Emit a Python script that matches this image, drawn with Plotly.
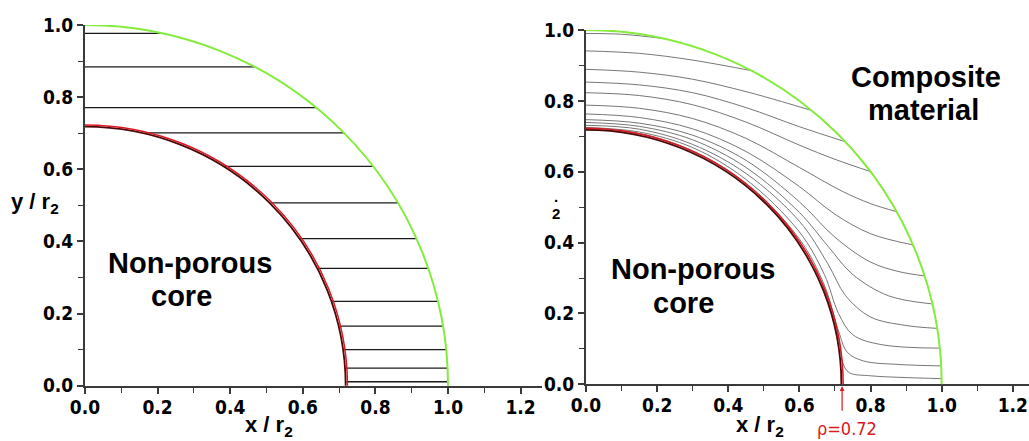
import numpy as np
import plotly.graph_objects as go

W, H = 1029, 441

# ---------------- data ----------------
outer_radius = 1.0
core_radius = 0.72

# left panel: heights of the straight (horizontal) lines
left_line_y = [0.977, 0.884, 0.771, 0.701, 0.608, 0.507, 0.408,
               0.325, 0.234, 0.165, 0.100, 0.049, 0.011]

# right panel: curved lines (x, y points)
stream_x = [
    [0, 0.10, 0.218],
    [0, 0.15, 0.30, 0.472],
    [0, 0.15, 0.30, 0.45, 0.55, 0.637],
    [0, 0.15, 0.30, 0.45, 0.60, 0.728],
    [0, 0.15, 0.30, 0.45, 0.60, 0.70, 0.801],
    [0, 0.15, 0.30, 0.45, 0.60, 0.72, 0.80, 0.874],
    [0, 0.15, 0.30, 0.45, 0.60, 0.70, 0.80, 0.921],
    [0, 0.15, 0.30, 0.45, 0.60, 0.70, 0.80, 0.88, 0.952],
    [0, 0.15, 0.30, 0.45, 0.60, 0.68, 0.75, 0.85, 0.972],
    [0, 0.15, 0.30, 0.45, 0.60, 0.68, 0.73, 0.80, 0.90, 0.986],
    [0, 0.15, 0.30, 0.45, 0.60, 0.67, 0.71, 0.75, 0.83, 0.994],
    [0, 0.15, 0.30, 0.45, 0.60, 0.67, 0.71, 0.735, 0.78, 0.88, 0.999],
    [0, 0.15, 0.30, 0.45, 0.60, 0.67, 0.712, 0.722, 0.74, 0.80, 0.90, 1.0],
]
stream_y = [
    [0.990, 0.988, 0.976],
    [0.941, 0.934, 0.915, 0.884],
    [0.889, 0.881, 0.861, 0.826, 0.798, 0.772],
    [0.853, 0.845, 0.823, 0.781, 0.727, 0.685],
    [0.823, 0.815, 0.789, 0.740, 0.675, 0.635, 0.600],
    [0.788, 0.779, 0.750, 0.694, 0.612, 0.545, 0.510, 0.487],
    [0.763, 0.753, 0.721, 0.657, 0.558, 0.480, 0.425, 0.393],
    [0.747, 0.737, 0.703, 0.632, 0.515, 0.415, 0.345, 0.318, 0.306],
    [0.739, 0.728, 0.690, 0.612, 0.485, 0.390, 0.310, 0.250, 0.227],
    [0.731, 0.720, 0.677, 0.595, 0.460, 0.340, 0.250, 0.190, 0.166, 0.158],
    [0.725, 0.712, 0.668, 0.578, 0.430, 0.310, 0.200, 0.140, 0.112, 0.102],
    [0.722, 0.708, 0.659, 0.567, 0.410, 0.280, 0.150, 0.090, 0.066, 0.056, 0.052],
    [0.721, 0.706, 0.656, 0.563, 0.402, 0.266, 0.120, 0.060, 0.033, 0.024, 0.019, 0.016],
]

tick_vals = [0.0, 0.2, 0.4, 0.6, 0.8, 1.0, 1.2]
tick_text = ["0.0", "0.2", "0.4", "0.6", "0.8", "1.0", "1.2"]
marker_rho = 0.72

# ---------------- styling ----------------
FONT = "Liberation Sans, Arial, sans-serif"
NARROW = "Liberation Sans Narrow, Arial Narrow, DejaVu Sans Condensed, sans-serif"
AXIS_COLOR = "#3a3a3a"
GREEN = "#84ec3c"
RED = "#dc1820"
DARK_RED = "#4a0a0a"

fig = go.Figure()

# left panel horizontal lines
lx, ly = [], []
for y in left_line_y:
    xs = np.sqrt(max(core_radius ** 2 - y ** 2, 0.0))
    xe = np.sqrt(outer_radius ** 2 - y ** 2)
    lx += [xs, xe, None]
    ly += [y, y, None]
fig.add_trace(go.Scatter(x=lx, y=ly, mode="lines", xaxis="x", yaxis="y",
                         line=dict(color="#1a1a1a", width=1.3),
                         hoverinfo="skip", showlegend=False))

# right panel streamlines
for xs, ys in zip(stream_x, stream_y):
    fig.add_trace(go.Scatter(x=xs, y=ys, mode="lines", xaxis="x2", yaxis="y2",
                             line=dict(color="#666666", width=0.9, shape="spline", smoothing=1.0),
                             hoverinfo="skip", showlegend=False))

shapes = []
for xr, yr in (("x", "y"), ("x2", "y2")):
    shapes.append(dict(type="circle", xref=xr, yref=yr, layer="above",
                       x0=-outer_radius, y0=-outer_radius, x1=outer_radius, y1=outer_radius,
                       line=dict(color=GREEN, width=2)))
    shapes.append(dict(type="circle", xref=xr, yref=yr, layer="above",
                       x0=-core_radius + 0.002, y0=-core_radius + 0.002,
                       x1=core_radius - 0.002, y1=core_radius - 0.002,
                       line=dict(color=DARK_RED, width=1.8)))
    shapes.append(dict(type="circle", xref=xr, yref=yr, layer="above",
                       x0=-core_radius - 0.003, y0=-core_radius - 0.003,
                       x1=core_radius + 0.003, y1=core_radius + 0.003,
                       line=dict(color=RED, width=1.5)))


def px2paper(px, py):
    return px / W, 1 - py / H


annotations = []


def text_at(px, py, text, size, color="black", family=FONT):
    x, y = px2paper(px, py)
    annotations.append(dict(x=x, y=y, xref="paper", yref="paper", text=text,
                            showarrow=False, xanchor="center", yanchor="middle",
                            font=dict(family=family, size=size, color=color)))


text_at(190, 263, "<b>Non-porous</b>", 29)
text_at(181, 296, "<b>core</b>", 29)
text_at(693, 269, "<b>Non-porous</b>", 29)
text_at(683, 303, "<b>core</b>", 29)
text_at(926, 77, "<b>Composite</b>", 29)
text_at(923, 110, "<b>material</b>", 29)
text_at(269, 426, "<b>x / r<sub>2</sub></b>", 22)
text_at(760, 426, "<b>x / r<sub>2</sub></b>", 22)
text_at(35, 203, "<b>y / r<sub>2</sub></b>", 22)
text_at(556, 196, "<b>.</b>", 15)
text_at(556, 213, "<b>2</b>", 15)
text_at(847, 428, "ρ=0.72", 18, color=RED, family=NARROW)

# arrow pointing to rho on the right x axis
annotations.append(dict(x=marker_rho, y=0, xref="x2", yref="y2", text="",
                        showarrow=True, ax=0, ay=28, axref="pixel", ayref="pixel",
                        arrowhead=2, arrowsize=0.8, arrowwidth=1.2, arrowcolor=RED,
                        standoff=2))


def axis_common(rng, dom, anchor, standoff):
    return dict(range=rng, domain=dom, anchor=anchor, automargin=False,
                showgrid=False, zeroline=False, showline=True,
                linecolor=AXIS_COLOR, linewidth=2,
                ticks="outside", ticklen=6, tickwidth=1.6, tickcolor=AXIS_COLOR,
                tickmode="array", tickvals=tick_vals,
                ticktext=["<b>%s</b>" % t for t in tick_text],
                tickfont=dict(family=NARROW, size=19, color="black"),
                ticklabelstandoff=standoff,
                minor=dict(dtick=0.1, tick0=0, ticks="outside", ticklen=5,
                           tickwidth=1.4, tickcolor=AXIS_COLOR),
                fixedrange=True)


lx0, lx1 = 85 / W, 542.4 / W
ly0, ly1 = 1 - 385.7 / H, 1 - 25 / H
rx0, rx1 = 586 / W, 1.0
ry0, ry1 = 1 - 384.3 / H, 1 - 30 / H

fig.update_layout(
    template="none",
    width=W, height=H,
    margin=dict(l=0, r=0, t=0, b=0, pad=0),
    paper_bgcolor="white", plot_bgcolor="white",
    showlegend=False,
    xaxis=axis_common([0, 1.26], [lx0, lx1], "y", -3),
    yaxis=axis_common([0, 1.0], [ly0, ly1], "x", 0),
    xaxis2=axis_common([0, (W - 586) / 355.7], [rx0, rx1], "y2", -3),
    yaxis2=axis_common([0, 1.0], [ry0, ry1], "x2", 0),
    shapes=shapes,
    annotations=annotations,
)

fig.write_html("out.html")
